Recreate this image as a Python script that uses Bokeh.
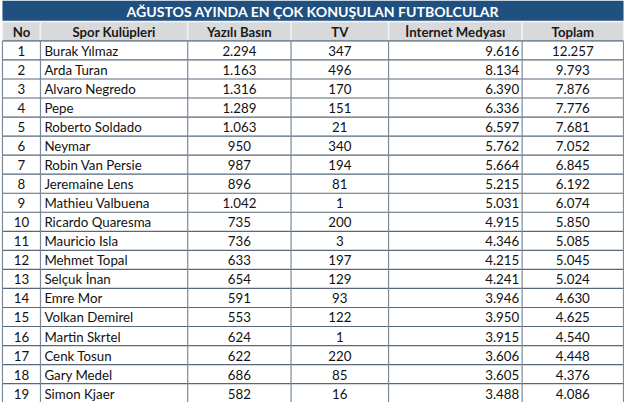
from bokeh.plotting import figure
from bokeh.models import Range1d, ColumnDataSource
from bokeh.core.properties import value
from bokeh.embed import file_html
from bokeh.resources import INLINE

title = "AĞUSTOS AYINDA EN ÇOK KONUŞULAN FUTBOLCULAR"
headers = ["No", "Spor Kulüpleri", "Yazılı Basın", "TV", "İnternet Medyası", "Toplam"]
ranks = list(range(1, 20))
players = ["Burak Yılmaz", "Arda Turan", "Alvaro Negredo", "Pepe", "Roberto Soldado",
           "Neymar", "Robin Van Persie", "Jeremaine Lens", "Mathieu Valbuena",
           "Ricardo Quaresma", "Mauricio Isla", "Mehmet Topal", "Selçuk İnan",
           "Emre Mor", "Volkan Demirel", "Martin Skrtel", "Cenk Tosun", "Gary Medel",
           "Simon Kjaer"]
yazili = [2294, 1163, 1316, 1289, 1063, 950, 987, 896, 1042, 735, 736, 633, 654, 591, 553, 624, 622, 686, 582]
tv = [347, 496, 170, 151, 21, 340, 194, 81, 1, 200, 3, 197, 129, 93, 122, 1, 220, 85, 16]
internet = [9616, 8134, 6390, 6336, 6597, 5762, 5664, 5215, 5031, 4915, 4346, 4215, 4241, 3946, 3950, 3915, 3606, 3605, 3488]
toplam = [12257, 9793, 7876, 7776, 7681, 7052, 6845, 6192, 6074, 5850, 5085, 5045, 5024, 4630, 4625, 4540, 4448, 4376, 4086]

# layout (reference pixel space)
W, H = 640, 418
col_edges = [2, 41, 192, 298, 398, 535, 639]
title_h = 21
head_top, head_bot = 22, 42
row_h = 19.8
S = 624 / 640

def fmt(v):
    return f"{v:,}".replace(",", ".")

p = figure(width=624, height=402, output_backend="svg", toolbar_location=None,
           x_range=Range1d(0, W), y_range=Range1d(H, 0), min_border=0)
p.axis.visible = False
p.grid.visible = False
p.outline_line_color = None
p.background_fill_color = "white"

font = value("Lato")
fs = f"{13.6 * S:.1f}px"

# title bar
p.quad(left=[col_edges[0]], right=[col_edges[-1]], top=[0], bottom=[title_h],
       fill_color="#20507F", line_color=None)
p.text(x=[(col_edges[0] + col_edges[-1]) / 2], y=[title_h / 2 + 0.5], text=[title],
       text_font=font, text_font_style="bold", text_font_size=f"{14.5 * S:.1f}px",
       text_color="white", text_align="center", text_baseline="middle")

# header cells
p.quad(left=col_edges[:-1], right=col_edges[1:], top=[head_top] * 6, bottom=[head_bot] * 6,
       fill_color="#D8D9DB", line_color="#F2F2F2", line_width=1.5)
hx = [(a + b) / 2 for a, b in zip(col_edges[:-1], col_edges[1:])]
p.text(x=hx, y=[(head_top + head_bot) / 2 + 0.5] * 6, text=headers,
       text_font=font, text_font_style="bold", text_font_size=f"{13.5 * S:.1f}px",
       text_color="#1A1A1A", text_align="center", text_baseline="middle")

# body
n = len(players)
tops = [head_bot + i * row_h for i in range(n)]
mids = [t + row_h / 2 + 0.5 for t in tops]

# horizontal row lines
ys = [head_bot + i * row_h for i in range(n + 1)]
p.segment(x0=[col_edges[0]] * len(ys), x1=[col_edges[-1]] * len(ys), y0=ys, y1=ys,
          line_color="#56687A", line_width=1.2)
# vertical lines
p.segment(x0=col_edges, x1=col_edges, y0=[head_bot] * 7, y1=[H + 5] * 7,
          line_color="#7C8A98", line_width=1.2)

src = ColumnDataSource(dict(
    y=mids,
    no=[str(r) for r in ranks],
    name=players,
    yaz=[fmt(v) for v in yazili],
    tv=[fmt(v) for v in tv],
    inet=[fmt(v) for v in internet],
    top=[fmt(v) for v in toplam],
))

common = dict(y="y", source=src, text_font=font, text_font_size=fs,
              text_color="#111111", text_baseline="middle")
p.text(x=(col_edges[0] + col_edges[1]) / 2, text="no", text_align="center", **common)
p.text(x=col_edges[1] + 4, text="name", text_align="left", **common)
p.text(x=(col_edges[2] + col_edges[3]) / 2, text="yaz", text_align="center", **common)
p.text(x=(col_edges[3] + col_edges[4]) / 2, text="tv", text_align="center", **common)
p.text(x=col_edges[5] - 3, text="inet", text_align="right", **common)
p.text(x=(col_edges[5] + col_edges[6]) / 2, text="top", text_align="center", **common)

open("out.html", "w").write(file_html(p, INLINE))
